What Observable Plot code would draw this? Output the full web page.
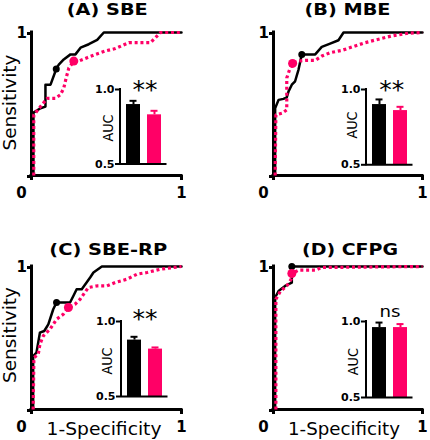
<!DOCTYPE html>
<html><head><meta charset="utf-8">
<script src="https://cdn.jsdelivr.net/npm/d3@7"></script>
<script src="https://cdn.jsdelivr.net/npm/@observablehq/plot@0.6"></script>
<style>
html,body{margin:0;padding:0;background:#fff;}
#chart{position:relative;width:430px;height:440px;overflow:hidden;background:#fff;}
</style></head><body><div id="chart"></div>
<script>
// ---- data ----
const panelTitles = ["(A) SBE", "(B) MBE", "(C) SBE-RP", "(D) CFPG"];
const groups = ["Test 1", "Test 2"];
const rocTicks = [0, 1];
const aucTicks = [0.5, 1.0];
const sigLabels = ["**", "**", "**", "ns"];

const sbeBlack = [[0.013,0],[0.013,0.44],[0.06,0.47],[0.093,0.482],[0.093,0.635],[0.127,0.635],[0.165,0.745],[0.182,0.776],[0.215,0.812],[0.26,0.847],[0.293,0.847],[0.327,0.894],[0.382,0.918],[0.438,0.948],[0.482,1],[1,1]];
const sbePink = [[0.015,0],[0.015,0.423],[0.06,0.482],[0.105,0.54],[0.16,0.54],[0.193,0.565],[0.215,0.611],[0.231,0.682],[0.249,0.752],[0.282,0.8],[0.315,0.8],[0.371,0.824],[0.427,0.847],[0.493,0.871],[0.56,0.888],[0.649,0.929],[0.793,0.929],[0.86,1],[1,1]];
const mbeBlack = [[0.011,0],[0.011,0.47],[0.034,0.529],[0.067,0.536],[0.089,0.546],[0.101,0.588],[0.123,0.635],[0.145,0.659],[0.168,0.741],[0.19,0.847],[0.28,0.847],[0.324,0.899],[0.38,0.922],[0.436,0.946],[0.47,1],[1,1]];
const mbePink = [[0.011,0],[0.016,0.424],[0.056,0.435],[0.089,0.459],[0.089,0.682],[0.112,0.753],[0.128,0.784],[0.168,0.8],[0.213,0.805],[0.28,0.805],[0.324,0.835],[0.38,0.859],[0.459,0.875],[0.548,0.906],[0.615,0.929],[0.705,0.953],[0.794,0.976],[0.906,0.995],[1,1]];
const sberpBlack = [[0.011,0],[0.011,0.374],[0.033,0.397],[0.056,0.537],[0.085,0.549],[0.112,0.596],[0.145,0.701],[0.167,0.748],[0.257,0.748],[0.279,0.794],[0.301,0.841],[0.335,0.841],[0.391,0.923],[0.413,0.958],[0.469,1],[1,1]];
const sberpPink = [[0.011,0],[0.016,0.362],[0.045,0.386],[0.056,0.456],[0.078,0.514],[0.123,0.561],[0.167,0.631],[0.212,0.666],[0.246,0.713],[0.29,0.736],[0.324,0.771],[0.379,0.853],[0.435,0.864],[0.502,0.864],[0.558,0.888],[0.636,0.911],[0.703,0.946],[0.77,0.958],[0.859,0.981],[1,1]];
const cfpgBlack = [[0.011,0],[0.011,0.783],[0.034,0.829],[0.078,0.864],[0.123,0.888],[0.123,1],[1,1]];
const cfpgPink = [[0.016,0],[0.016,0.771],[0.045,0.825],[0.089,0.864],[0.119,0.911],[0.123,0.951],[0.168,0.974],[0.28,0.974],[0.324,0.993],[1,1]];

const cutBlack = [[0.165,0.745],[0.19,0.847],[0.167,0.748],[0.123,1]];
const cutPink = [[0.282,0.8],[0.128,0.784],[0.246,0.713],[0.123,0.951]];

const aucBlack = [0.899, 0.900, 0.876, 0.960];
const aucBlackSE = [0.025, 0.034, 0.022, 0.033];
const aucPink = [0.830, 0.860, 0.816, 0.960];
const aucPinkSE = [0.027, 0.025, 0.011, 0.023];

// ---- layout ----
const pink = "#ff0066";
const font = '"DejaVu Sans", Verdana, sans-serif';
const curvesBlack = [sbeBlack, mbeBlack, sberpBlack, cfpgBlack];
const curvesPink = [sbePink, mbePink, sberpPink, cfpgPink];
const layout = [
  {x0:31, x1:181, y0:174.5, y1:31.5, L:120, T:89, B:163.5,
   title:[107.3,14.5,81], sens:[15.5,102.5], spec:null, auc:[113.3,128], sig:[145,85]},
  {x0:273.3, x1:422.3, y0:174.5, y1:31.5, L:365.7, T:89, B:164.3,
   title:[347.5,14.5,86], sens:null, spec:null, auc:[357,125], sig:[391.7,85]},
  {x0:31, x1:181, y0:409, y1:266, L:120.7, T:320.7, B:395.7,
   title:[108.3,254.5,118], sens:[15.5,335], spec:[104,435,115], auc:[111.7,361], sig:[145,313.3]},
  {x0:273.3, x1:422.3, y0:409, y1:266, L:365.7, T:320.7, B:396.7,
   title:[350,255,96], sens:null, spec:[344,435,112], auc:[358.3,361.7], sig:[390,312.5]}
];

const root = document.getElementById("chart");
function place(svg, left, top) {
  svg.style.position = "absolute";
  svg.style.left = left + "px";
  svg.style.top = top + "px";
  root.appendChild(svg);
}
const fmtInt = d => String(d);

layout.forEach((p, i) => {
  const mL = 40, mR = 20, mT = 20, mB = 40;
  const w = mL + (p.x1 - p.x0) + mR, h = mT + (p.y0 - p.y1) + mB;
  const roc = Plot.plot({
    width: w, height: h, marginLeft: mL, marginRight: mR, marginTop: mT, marginBottom: mB,
    style: {background: "transparent", fontFamily: font, overflow: "visible", color: "#000"},
    x: {domain: [0, 1], axis: null},
    y: {domain: [0, 1], axis: null},
    marks: [
      Plot.ruleX([0], {strokeWidth: 3, strokeLinecap: "square"}),
      Plot.ruleY([0], {strokeWidth: 3, strokeLinecap: "square"}),
      Plot.axisY({ticks: rocTicks, tickSize: 4, strokeWidth: 3, tickPadding: 0.5, label: null, tickFormat: d => d === 0 ? "" : fmtInt(d), fontSize: 15, fontWeight: "bold", dy: 1}),
      Plot.axisX({ticks: rocTicks, tickSize: 5, strokeWidth: 3, label: null, tickFormat: () => ""}),
      Plot.axisX({ticks: [rocTicks[1]], tickSize: 0, tickPadding: 12, label: null, tickFormat: fmtInt, fontSize: 15, fontWeight: "bold"}),
      Plot.axisX({ticks: [rocTicks[0]], tickSize: 0, tickPadding: 12, label: null, tickFormat: fmtInt, fontSize: 15, fontWeight: "bold", dx: -10}),
      Plot.line(curvesBlack[i], {x: d => d[0], y: d => d[1], stroke: "#000", strokeWidth: 2.5}),
      Plot.line(curvesPink[i], {x: d => d[0], y: d => d[1], stroke: pink, strokeWidth: 3.2, strokeDasharray: "3,2.8", strokeLinecap: "butt", strokeLinejoin: "miter"}),
      Plot.dot([cutBlack[i]], {x: d => d[0], y: d => d[1], r: 3.5, fill: "#000"}),
      Plot.dot([cutPink[i]], {x: d => d[0], y: d => d[1], r: 4.5, fill: pink})
    ]
  });
  place(roc, p.x0 - mL, p.y1 - mT);

  const aucData = groups.map((g, j) => ({group: g, auc: j ? aucPink[i] : aucBlack[i], se: j ? aucPinkSE[i] : aucBlackSE[i]}));
  const iL = 30, iR = 6, iT = 10, iB = 8, iw = 46.5;
  const inset = Plot.plot({
    width: iL + iw + iR, height: iT + (p.B - p.T) + iB,
    marginLeft: iL, marginRight: iR, marginTop: iT, marginBottom: iB,
    style: {background: "transparent", fontFamily: font, overflow: "visible", color: "#000"},
    x: {type: "band", domain: groups, paddingInner: 0.34, paddingOuter: 0.227, axis: null},
    y: {domain: [0.5, 1], axis: null},
    color: {type: "ordinal", domain: groups, range: ["#000000", pink]},
    marks: [
      Plot.barY(aucData, {x: "group", y1: () => 0.5, y2: "auc", fill: "group"}),
      Plot.ruleX(aucData, {x: "group", y1: "auc", y2: d => d.auc + d.se, stroke: "group", strokeWidth: 2}),
      Plot.tickY(aucData, {x: "group", y: d => d.auc + d.se, stroke: "group", strokeWidth: 2, inset: 3.5}),
      Plot.ruleY([0.5], {strokeWidth: 2}),
      (index, scales, values, dims) => d3.create("svg:line")
        .attr("x1", dims.marginLeft).attr("x2", dims.marginLeft)
        .attr("y1", scales.y(1) - 1).attr("y2", scales.y(0.5) + 1)
        .attr("stroke", "#000").attr("stroke-width", 2).node(),
      Plot.axisY({ticks: aucTicks, label: null, tickFormat: d3.format(".1f"), tickSize: 5, tickPadding: 1, strokeWidth: 2, fontSize: 11, fontWeight: "bold"})
    ]
  });
  place(inset, p.L - iL, p.T - iT);
});

// ---- text overlay ----
const ov = d3.create("svg").attr("width", 430).attr("height", 440)
  .style("position", "absolute").style("left", "0px").style("top", "0px")
  .attr("font-family", font).attr("fill", "#000");
layout.forEach((p, i) => {
  ov.append("text").attr("x", p.title[0]).attr("y", p.title[1]).attr("text-anchor", "middle")
    .attr("font-size", 15).attr("font-weight", "bold")
    .attr("textLength", p.title[2]).attr("lengthAdjust", "spacingAndGlyphs").text(panelTitles[i]);
  if (p.sens) ov.append("text").attr("transform", `translate(${p.sens[0]},${p.sens[1]}) rotate(-90)`)
    .attr("text-anchor", "middle").attr("font-size", 18.5)
    .attr("textLength", 96).attr("lengthAdjust", "spacingAndGlyphs").text("Sensitivity");
  if (p.spec) ov.append("text").attr("x", p.spec[0]).attr("y", p.spec[1]).attr("text-anchor", "middle")
    .attr("font-size", 18.5).attr("textLength", p.spec[2]).attr("lengthAdjust", "spacingAndGlyphs").text("1-Specificity");
  ov.append("text").attr("transform", `translate(${p.auc[0]},${p.auc[1]}) rotate(-90)`)
    .attr("text-anchor", "middle").attr("font-size", 14)
    .attr("textLength", 27).attr("lengthAdjust", "spacingAndGlyphs").text("AUC");
  if (sigLabels[i] === "ns") {
    ov.append("text").attr("x", p.sig[0]).attr("y", p.sig[1] + 4.5).attr("text-anchor", "middle")
      .attr("font-size", 16).attr("textLength", 21).attr("lengthAdjust", "spacingAndGlyphs").text(sigLabels[i]);
  } else {
    ov.append("text").attr("x", p.sig[0]).attr("y", p.sig[1] + 13.4).attr("text-anchor", "middle")
      .attr("font-size", 24).attr("textLength", 25).attr("lengthAdjust", "spacingAndGlyphs").text(sigLabels[i]);
  }
});
root.appendChild(ov.node());
</script></body></html>
